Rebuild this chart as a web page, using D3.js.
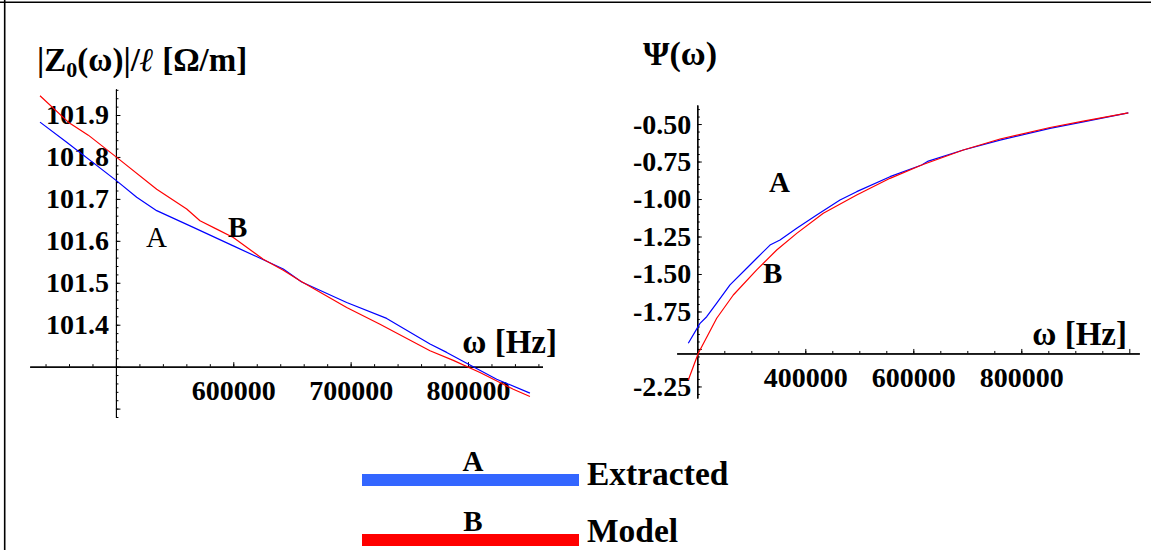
<!DOCTYPE html>
<html>
<head>
<meta charset="utf-8">
<script src="https://cdn.jsdelivr.net/npm/d3@7/dist/d3.min.js"></script>
<style>
  html, body { margin: 0; padding: 0; background: #fff; }
  svg { display: block; }
  text { font-family: "Liberation Serif", "Times New Roman", serif; fill: #000; }
  .axis path, .axis line { stroke: #000; stroke-width: 1; }
  .axis text { font-family: "Liberation Serif", serif; font-weight: bold; font-size: 28px; }
</style>
</head>
<body>
<script>
// ---- Characteristic impedance magnitude per unit length |Z0(w)|/l  [Ohm/m]
const zFreq      = [435280, 459400, 476440, 500640, 534730, 560290, 571620, 585850, 600000, 625560, 642600, 656840, 696640, 725020, 767630, 787480, 810230, 838610, 852800];
const zModel     = [101.946, 101.883, 101.852, 101.799, 101.723, 101.676, 101.648, 101.628, 101.608, 101.556, 101.530, 101.505, 101.441, 101.401, 101.338, 101.315, 101.286, 101.246, 101.229];
const zFreqExt   = [435280, 458030, 500640, 517680, 534730, 565920, 600000, 642600, 658280, 696640, 730720, 767630, 781860, 798900, 824460, 852800];
const zExtracted = [101.883, 101.835, 101.743, 101.704, 101.672, 101.632, 101.588, 101.533, 101.502, 101.453, 101.415, 101.354, 101.334, 101.308, 101.270, 101.237];

// ---- Phase term Psi(w)
const psiFreqExt   = [183330, 205000, 217410, 235930, 260560, 291480, 310000, 334630, 353150, 384070, 421110, 464260, 495190, 556850, 615560, 627780, 692590, 760560, 853150, 914810, 998150];
const psiExtracted = [-1.962, -1.829, -1.785, -1.695, -1.573, -1.462, -1.395, -1.307, -1.273, -1.195, -1.107, -1.007, -0.951, -0.851, -0.773, -0.747, -0.673, -0.607, -0.529, -0.485, -0.425];
const psiFreqMod   = [183330, 201850, 235930, 266670, 310000, 347040, 384070, 433330, 495190, 556850, 615560, 692590, 760560, 853150, 914810, 998150];
const psiModel     = [-2.207, -2.029, -1.795, -1.640, -1.473, -1.340, -1.229, -1.095, -0.973, -0.862, -0.773, -0.673, -0.600, -0.523, -0.480, -0.425];

// ---- Tick labels
const zYTicks   = [101.4, 101.5, 101.6, 101.7, 101.8, 101.9];
const zXTicks   = [600000, 700000, 800000];
const psiYTicks = [-0.50, -0.75, -1.00, -1.25, -1.50, -1.75, -2.25];
const psiXTicks = [400000, 600000, 800000];

const W = 1151, H = 550;
const BLUE = "#0000ff", RED = "#ff0000";

const svg = d3.select("body").append("svg")
  .attr("width", W).attr("height", H);

// page frame (top and left rules)
svg.append("line").attr("x1", 0).attr("x2", W).attr("y1", 2.3).attr("y2", 2.3)
  .attr("stroke", "#000").attr("stroke-width", 1.6);
svg.append("line").attr("x1", 4.7).attr("x2", 4.7).attr("y1", 0).attr("y2", H)
  .attr("stroke", "#000").attr("stroke-width", 1.6);

// axes drawn through the origin point, Mathematica style
function crossAxes(g, x, y, x0, y0, opt) {
  // y axis: labels on the left, ticks pointing right
  const yMajor = d3.axisLeft(y).tickValues(opt.yTicks)
    .tickFormat(opt.yFmt).tickSizeInner(-4.5).tickSizeOuter(0).tickPadding(opt.yPad);
  const yMinor = d3.axisLeft(y).tickValues(opt.yMinor)
    .tickFormat("").tickSizeInner(-2.5).tickSizeOuter(0);
  const yMajTicksOnly = d3.axisLeft(y).tickValues(opt.yMajorNoLabel)
    .tickFormat("").tickSizeInner(-4.5).tickSizeOuter(0);
  g.append("g").attr("class", "axis").attr("transform", `translate(${x(x0)},0)`).call(yMinor);
  g.append("g").attr("class", "axis").attr("transform", `translate(${x(x0)},0)`).call(yMajTicksOnly);
  g.append("g").attr("class", "axis").attr("transform", `translate(${x(x0)},0)`).call(yMajor);

  // x axis: labels below, ticks pointing up
  const xMajor = d3.axisBottom(x).tickValues(opt.xTicks)
    .tickFormat(d3.format("d")).tickSizeInner(-4.5).tickSizeOuter(0).tickPadding(opt.xPad);
  const xMinor = d3.axisBottom(x).tickValues(opt.xMinor)
    .tickFormat("").tickSizeInner(-2.5).tickSizeOuter(0);
  const xMajTicksOnly = d3.axisBottom(x).tickValues(opt.xMajorNoLabel)
    .tickFormat("").tickSizeInner(-4.5).tickSizeOuter(0);
  g.append("g").attr("class", "axis").attr("transform", `translate(0,${y(y0)})`).call(xMinor);
  g.append("g").attr("class", "axis").attr("transform", `translate(0,${y(y0)})`).call(xMajTicksOnly);
  g.append("g").attr("class", "axis").attr("transform", `translate(0,${y(y0)})`).call(xMajor);
  g.selectAll(".axis .domain").attr("stroke-width", 1);
}

function drawLine(g, x, y, xs, ys, color) {
  const pts = xs.map((d, i) => [d, ys[i]]);
  g.append("path")
    .attr("d", d3.line().x(d => x(d[0])).y(d => y(d[1]))(pts))
    .attr("fill", "none").attr("stroke", color).attr("stroke-width", 1.2)
    .attr("stroke-linejoin", "round");
}

// ================= Left panel: |Z0(w)|/l =================
const gL = svg.append("g");
const xL = d3.scaleLinear().domain([426500, 863500]).range([29.7, 542.5]);
const yL = d3.scaleLinear().domain([101.18, 101.962]).range([417, 89]);

crossAxes(gL, xL, yL, 500000, 101.3, {
  yTicks: zYTicks, yFmt: d3.format(".1f"), yPad: 7,
  yMajorNoLabel: [101.2, 101.3],
  yMinor: d3.range(101.18, 101.961, 0.02).map(v => +v.toFixed(2)),
  xTicks: zXTicks, xPad: 13,
  xMajorNoLabel: [500000],
  xMinor: d3.range(440000, 861000, 20000)
});

drawLine(gL, xL, yL, zFreqExt, zExtracted, BLUE);
drawLine(gL, xL, yL, zFreq, zModel, RED);

const titleL = gL.append("text").attr("x", 37).attr("y", 71)
  .attr("font-size", 33).attr("font-weight", "bold");
titleL.append("tspan").text("|Z");
titleL.append("tspan").attr("font-size", 22).attr("dy", 6).text("0");
titleL.append("tspan").attr("dy", -6).text("(ω)|/");
titleL.append("tspan").attr("font-style", "italic").text("ℓ");
titleL.append("tspan").text(" [Ω/m]");

gL.append("text").attr("x", 557).attr("y", 353).attr("text-anchor", "end")
  .attr("font-size", 33).attr("font-weight", "bold").text("ω [Hz]");
gL.append("text").attr("x", 146).attr("y", 247)
  .attr("font-size", 29).text("A");
gL.append("text").attr("x", 228).attr("y", 237)
  .attr("font-size", 29).attr("font-weight", "bold").text("B");

// ================= Right panel: Psi(w) =================
const gR = svg.append("g");
const xR = d3.scaleLinear().domain([161850, 1018500]).range([676.7, 1139.3]);
const yR = d3.scaleLinear().domain([-2.327, -0.373]).range([398, 105]);

crossAxes(gR, xR, yR, 200000, -2.03, {
  yTicks: psiYTicks, yFmt: d => d.toFixed(2), yPad: 6,
  yMajorNoLabel: [-2.0],
  yMinor: d3.range(-2.30, -0.38, 0.05).map(v => +v.toFixed(2)),
  xTicks: psiXTicks, xPad: 13.5,
  xMajorNoLabel: [200000, 1000000],
  xMinor: d3.range(250000, 1000000, 50000)
});

drawLine(gR, xR, yR, psiFreqExt, psiExtracted, BLUE);
drawLine(gR, xR, yR, psiFreqMod, psiModel, RED);

gR.append("text").attr("x", 643).attr("y", 65)
  .attr("font-size", 34).attr("font-weight", "bold").text("Ψ(ω)");
gR.append("text").attr("x", 1127).attr("y", 345).attr("text-anchor", "end")
  .attr("font-size", 33).attr("font-weight", "bold").text("ω [Hz]");
gR.append("text").attr("x", 769).attr("y", 192)
  .attr("font-size", 29).attr("font-weight", "bold").text("A");
gR.append("text").attr("x", 763).attr("y", 283)
  .attr("font-size", 29).attr("font-weight", "bold").text("B");

// ================= Legend =================
const legend = [
  { key: "A", name: "Extracted", color: "#3366ff", y: 474, ty: 485 },
  { key: "B", name: "Model",     color: "#ff0000", y: 534, ty: 542 }
];
const lg = svg.append("g");
legend.forEach(d => {
  lg.append("rect").attr("x", 362).attr("y", d.y).attr("width", 217).attr("height", 12)
    .attr("fill", d.color);
  lg.append("text").attr("x", 473).attr("y", d.y - 3).attr("text-anchor", "middle")
    .attr("font-size", 29).attr("font-weight", "bold").text(d.key);
  lg.append("text").attr("x", 587).attr("y", d.ty)
    .attr("font-size", 33.5).attr("font-weight", "bold").text(d.name);
});
</script>
</body>
</html>
